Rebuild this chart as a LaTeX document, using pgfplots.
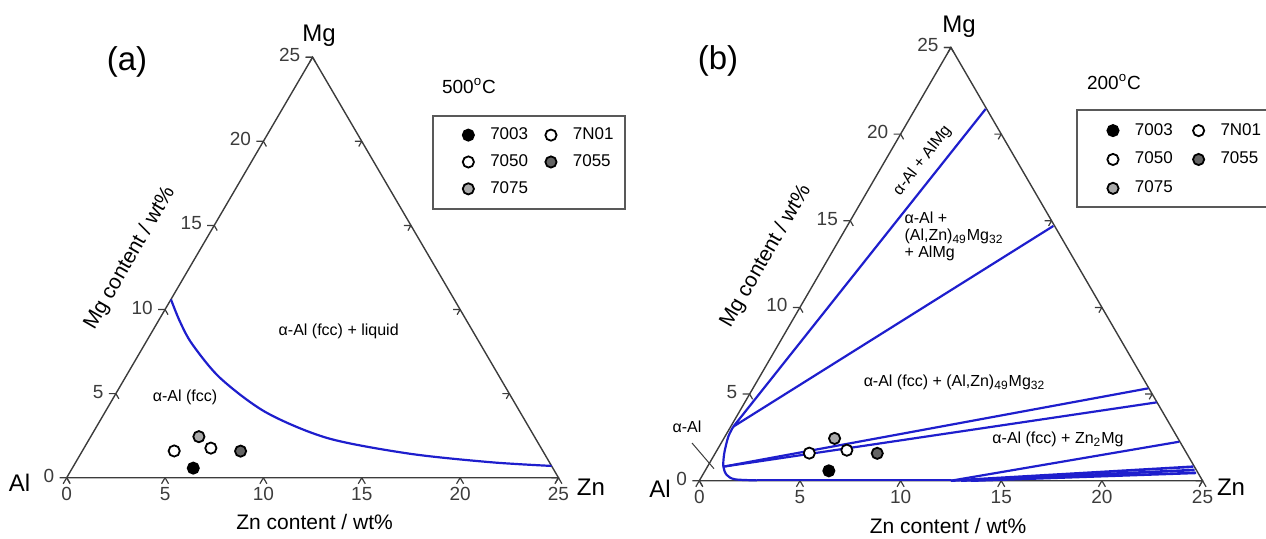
\documentclass[border=0pt]{standalone}
\usepackage{fontspec}
\setmainfont{Liberation Sans}
\usepackage{pgfplots}
\pgfplotsset{compat=1.18}

\definecolor{pblue}{RGB}{30,30,205}
\definecolor{framec}{RGB}{60,60,60}
\definecolor{g7055}{RGB}{100,100,100}
\definecolor{g7075}{RGB}{170,170,170}
\newcommand\ft[2]{\fontsize{#1}{#2}\selectfont}

% (Zn, Mg) in wt% -> triangle coordinates
\pgfplotsset{
  table/tern/.style={/pgfplots/table/x expr=\thisrow{zn}+0.5*\thisrow{mg},
                     /pgfplots/table/y expr=\thisrow{mg}},
  frame line/.style={color=framec, line width=0.7pt, forget plot},
  bline/.style={color=pblue, line width=1.1pt, forget plot},
  alloy/.style={only marks, mark=*, mark size=2.8pt, draw=black, line width=0.9pt},
  tern axis/.style={hide axis, clip=false, enlargelimits=false,
    xmin=0, xmax=25, ymin=0, ymax=25, anchor=south west,
    legend columns=2, legend cell align=left,
    legend image code/.code={\path (-8.5pt,0pt) (8.5pt,0pt); \draw[##1] plot coordinates {(0pt,0pt)};},
    legend style={draw=none, fill=none, anchor=north west,
      inner ysep=3.6pt, font=\ft{8.5}{10}}},
}

\newcommand\ternframe{%
  \addplot[frame line] table[tern,row sep=\\]{zn mg\\ 0 0\\ 25 0\\ 0 25\\ 0 0\\};
  \pgfplotsinvokeforeach{0,5,10,15,20,25}{
    \draw[framec, line width=0.6pt] (axis cs:##1,0) -- ++(240:3.5pt) (axis cs:##1,0) -- ++(300:3.5pt);
    \draw[framec, line width=0.6pt] (axis cs:{0.5*##1},##1) -- ++(180:3.5pt) (axis cs:{0.5*##1},##1) -- ++(300:3pt);
    \draw[framec, line width=0.6pt] (axis cs:{25-0.5*##1},##1) -- ++(180:3.5pt) (axis cs:{25-0.5*##1},##1) -- ++(240:3pt);
    \node[framec, inner sep=0pt, font=\ft{9.5}{11}, yshift=-8.25pt] at (axis cs:##1,0) {##1};
    \node[framec, inner sep=0pt, anchor=east, font=\ft{9.5}{11}, xshift=-6pt, yshift=1pt] at (axis cs:{0.5*##1},##1) {##1};
  }}

\newcommand\alloys{%
  \addplot[alloy, fill=black] table[tern,row sep=\\]{zn mg\\ 6.15 0.57\\};
  \addlegendentry{7003}
  \addplot[alloy, fill=white] table[tern,row sep=\\]{zn mg\\ 6.45 1.76\\};
  \addlegendentry{7N01}
  \addplot[alloy, fill=white] table[tern,row sep=\\]{zn mg\\ 4.67 1.59\\};
  \addlegendentry{7050}
  \addplot[alloy, fill=g7055] table[tern,row sep=\\]{zn mg\\ 8.05 1.58\\};
  \addlegendentry{7055}
  \addplot[alloy, fill=g7075] table[tern,row sep=\\]{zn mg\\ 5.5 2.44\\};
  \addlegendentry{7075}}

\begin{document}
\begin{tikzpicture}
\path[use as bounding box] (0,0) rectangle (633pt,269pt);

% (a) 500 C
\begin{axis}[tern axis, at={(33.35pt,30.15pt)}, x=9.835pt, y=8.41pt,
  legend style={at={(0.745,0.860)}, inner xsep=8.5pt, row sep=2pt,
    /tikz/every even column/.append style={column sep=0.5pt}}]
  \ternframe
  \addplot[bline, smooth] table[tern,row sep=\\]{zn mg\\ 0 10.6\\ 1.1 9.3\\ 2.4 7.95\\ 4.85 5.92\\ 8.2 3.88\\ 12.1 2.35\\ 16.7 1.43\\ 21.1 0.92\\ 24.3 0.7\\};
  \alloys
\end{axis}

% (b) 200 C
\begin{axis}[tern axis, at={(349.65pt,28.65pt)}, x=10.065pt, y=8.665pt,
  legend style={at={(0.7505,0.852)}, inner xsep=8.85pt, row sep=3pt,
    /tikz/every even column/.append style={column sep=2pt}}]
  \ternframe
  \addplot[bline] table[tern,row sep=\\]{zn mg\\ 0.13 3.12\\ 3.5 21.45\\};
  \addplot[bline] table[tern,row sep=\\]{zn mg\\ 0.13 3.12\\ 10.24 14.7\\};
  \addplot[bline, smooth] table[tern,row sep=\\]{zn mg\\ 0.13 3.12\\ 0.17 2.54\\ 0.45 1.58\\ 0.79 0.81\\ 1.2 0.33\\ 1.73 0.08\\ 2.85 0.02\\};
  \addplot[bline] table[tern,row sep=\\]{zn mg\\ 2.85 0.02\\ 12.5 0.02\\};
  \addplot[bline] table[tern,row sep=\\]{zn mg\\ 0.79 0.81\\ 19.64 5.33\\};
  \addplot[bline] table[tern,row sep=\\]{zn mg\\ 0.79 0.81\\ 20.46 4.52\\};
  \addplot[bline] table[tern,row sep=\\]{zn mg\\ 12.5 0\\ 22.72 2.25\\};
  \addplot[bline, line width=1.3pt] table[tern,row sep=\\]{zn mg\\ 12.5 0\\ 24.14 0.81\\};
  \addplot[bline, line width=1.3pt] table[tern,row sep=\\]{zn mg\\ 13.0 0\\ 24.3 0.62\\};
  \addplot[bline, line width=1.3pt] table[tern,row sep=\\]{zn mg\\ 13.5 0\\ 24.45 0.45\\};
  \alloys
\end{axis}

% labels, in pixel coordinates of the reference
\begin{scope}[shift={(0pt,269pt)}, x=0.5pt, y=-0.5pt]
  \node[font=\ft{16.5}{18}] at (127,61.6) {(a)};
  \node[font=\ft{12}{14}] at (319,36) {Mg};
  \node[font=\ft{12}{14}] at (19.5,483) {Al};
  \node[font=\ft{12}{14}] at (591,487) {Zn};
  \node[font=\ft{9.5}{11}] at (469,86) {500\textsuperscript{o}C};
  \node[font=\ft{10.5}{12}] at (314.6,522) {Zn content / wt\%};
  \node[font=\ft{10.5}{12}, rotate=60] at (130,258) {Mg content / wt\%};
  \node[font=\ft{8}{9}] at (338.7,331) {α-Al (fcc) + liquid};
  \node[font=\ft{8}{9}] at (185,397) {α-Al (fcc)};
  \draw[black!65, line width=0.7pt] (433,116) rectangle (625,209);

  \node[font=\ft{16.5}{18}] at (718,61) {(b)};
  \node[font=\ft{12}{14}] at (959,27) {Mg};
  \node[font=\ft{12}{14}] at (660,489) {Al};
  \node[font=\ft{12}{14}] at (1231,487.5) {Zn};
  \node[font=\ft{9.5}{11}] at (1114,82) {200\textsuperscript{o}C};
  \node[font=\ft{10.5}{12}] at (948,526) {Zn content / wt\%};
  \node[font=\ft{10.5}{12}, rotate=60] at (766,256) {Mg content / wt\%};
  \node[font=\ft{8}{9}, rotate=52] at (922.5,160.7) {α-Al + AlMg};
  \node[font=\ft{8}{8.5}, align=left] at (954,236) {α-Al +\\(Al,Zn)\textsubscript{49}Mg\textsubscript{32}\\+ AlMg};
  \node[font=\ft{8}{9}] at (954.5,382) {α-Al (fcc) + (Al,Zn)\textsubscript{49}Mg\textsubscript{32}};
  \node[font=\ft{8}{9}] at (1058,439) {α-Al (fcc) + Zn\textsubscript{2}Mg};
  \node[font=\ft{8}{9}] at (687,427) {α-Al};
  \draw[framec, line width=0.5pt] (692,443) -- (714,468.7);
  \draw[black!65, line width=0.7pt] (1077,110) rectangle (1290,207);
\end{scope}
\end{tikzpicture}
\end{document}
